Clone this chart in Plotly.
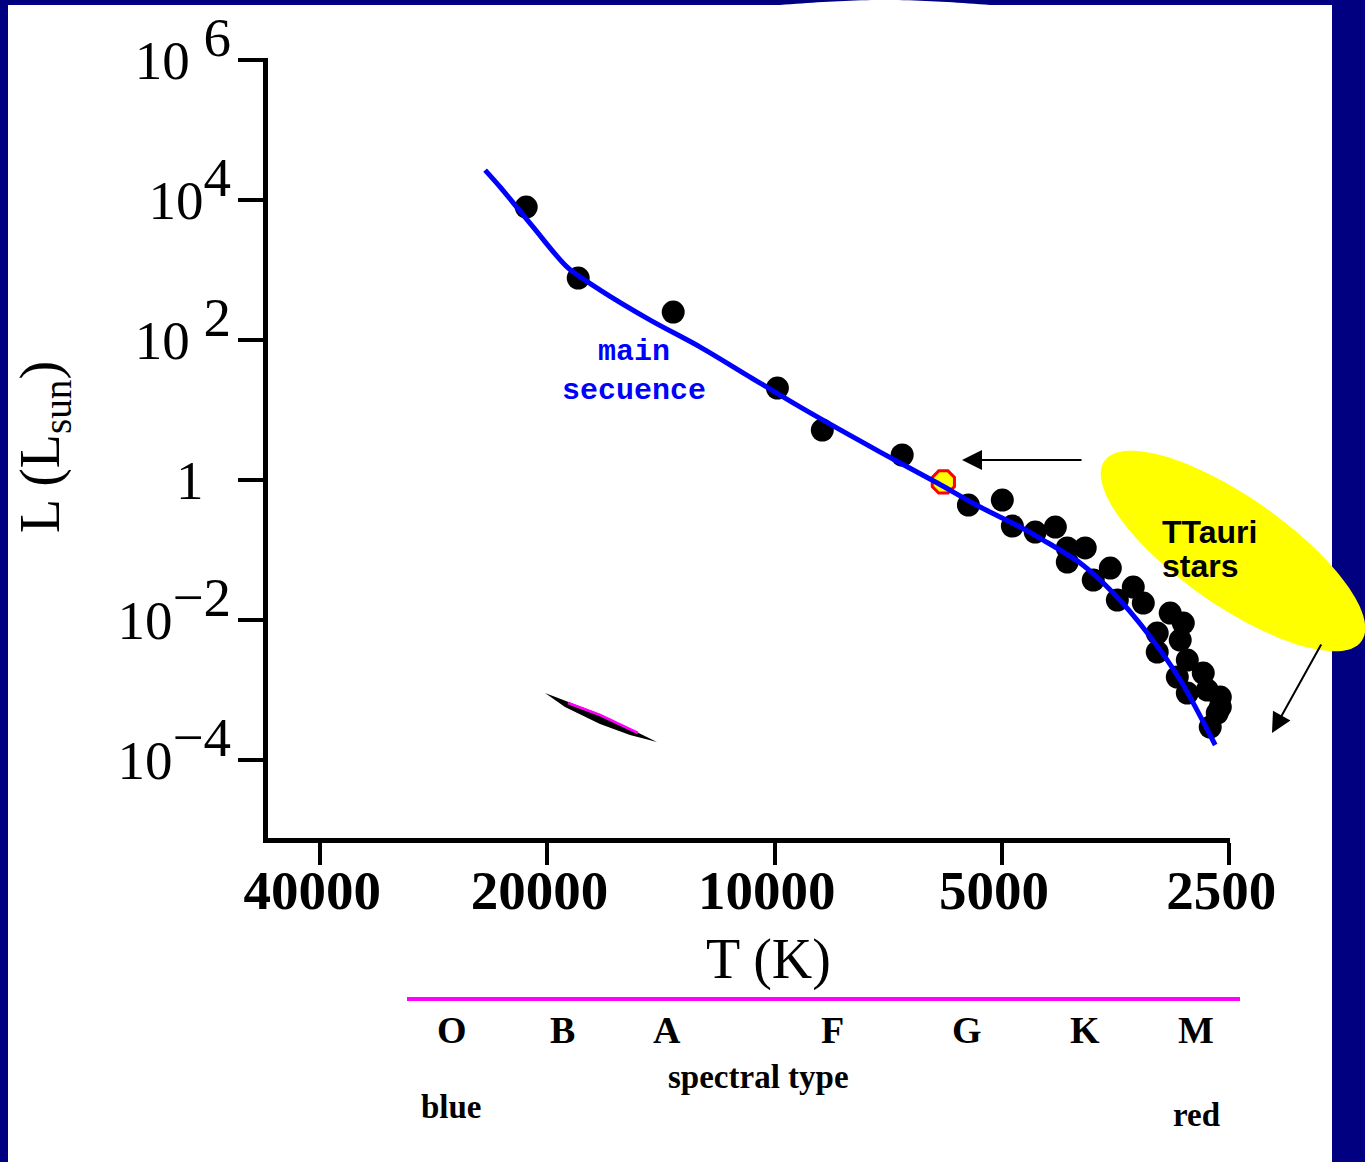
import numpy as np
import plotly.graph_objects as go

# ---------------- data ----------------
ms_T = [24190, 23100, 20890, 18830, 17030, 14620, 12550, 10780, 9250, 7250,
        6090, 5345, 4730, 4410, 3940, 3562, 3210, 2904, 2610]
ms_L = [26800, 15300, 4110, 1100, 518, 193, 79.4, 29.6, 11.0, 2.51,
        0.906, 0.411, 0.213, 0.139, 0.0652, 0.0243, 0.00652, 0.00139, 0.000164]

star_T = [21340, 18210, 13630, 9920, 8650, 6780, 5540, 4996, 4845, 4519,
          4250, 4098, 3880, 4098, 3594, 3786, 3351, 3518, 3250, 2994,
          2877, 3115, 2904, 3115, 2842, 2930, 2707, 2674, 2570, 2842,
          2594, 2650, 2570]
star_L = [7940, 769, 251, 20.6, 5.18, 2.28, 0.439, 0.518, 0.220, 0.181,
          0.213, 0.107, 0.107, 0.0674, 0.0553, 0.0373, 0.0296, 0.0193, 0.0175, 0.0126,
          0.00906, 0.00652, 0.00518, 0.00349, 0.00268, 0.00153, 0.00175, 0.00100, 0.000794, 0.000906,
          0.000469, 0.000296, 0.000571]

sun_T = [5980]
sun_L = [0.94]

x_tickvals = [40000, 20000, 10000, 5000, 2500]
x_ticktext = ["40000", "20000", "10000", "5000", "2500"]
y_tickvals = [1e-4, 1e-2, 1, 1e2, 1e4, 1e6]
y_exponents = ["\u22124", "\u22122", "", "2", "4", "6"]

spectral_types = ["O", "B", "A", "F", "G", "K", "M"]

# ---------------- layout geometry ----------------
W, H = 1365, 1162
L_M, R_M, T_M, B_M = 268, 135, 58, 324
PW = W - L_M - R_M
PH = H - T_M - B_M

def px(x):
    return (x - L_M) / PW

def py(y):
    return (H - B_M - y) / PH

def path_from(points, close=True):
    s = "M " + " L ".join(f"{px(a):.5f},{py(b):.5f}" for a, b in points)
    return s + (" Z" if close else "")

SERIF = "Liberation Serif"
TICK_SIZE = 55

y_ticktext = []
for e in y_exponents:
    if e == "":
        y_ticktext.append("1  ")
    else:
        sp = " " if e in ("6", "2") else ""
        y_ticktext.append(f"10{sp}<sup><span style='font-size:{TICK_SIZE}px'>{e}</span></sup>")

fig = go.Figure()
fig.add_trace(go.Scatter(
    x=star_T, y=star_L, mode="markers", cliponaxis=False,
    marker=dict(color="black", size=23, line=dict(width=0)),
    hoverinfo="skip", showlegend=False))
fig.add_trace(go.Scatter(
    x=sun_T, y=sun_L, mode="markers", cliponaxis=False,
    marker=dict(symbol="octagon", color="#FFFF00", size=24,
                line=dict(color="#FF0000", width=3)),
    hoverinfo="skip", showlegend=False))
fig.add_trace(go.Scatter(
    x=ms_T, y=ms_L, mode="lines", cliponaxis=False,
    line=dict(color="#0000FF", width=5, shape="spline", smoothing=0.8),
    hoverinfo="skip", showlegend=False))

shapes = []
# white slide panel on navy background
shapes.append(dict(type="rect", xref="paper", yref="paper", layer="below",
                   x0=px(8), x1=px(1332), y0=py(H + 10), y1=py(5),
                   fillcolor="white", line=dict(width=0)))
# small white bulge at the top border
bulge = [(780 + t, 5 - 5 * np.sin(np.pi * t / 210)) for t in np.linspace(0, 210, 40)]
shapes.append(dict(type="path", xref="paper", yref="paper", layer="below",
                   path=path_from(bulge), fillcolor="white", line=dict(width=0)))
# yellow TTauri ellipse
cx, cy, a, b, ang = 1233, 551, 157, 54, np.deg2rad(35)
tt = np.linspace(0, 2 * np.pi, 120, endpoint=False)
ell = [(cx + a * np.cos(t) * np.cos(ang) - b * np.sin(t) * np.sin(ang),
        cy + a * np.cos(t) * np.sin(ang) + b * np.sin(t) * np.cos(ang)) for t in tt]
shapes.append(dict(type="path", xref="paper", yref="paper", layer="below",
                   path=path_from(ell), fillcolor="#FFFF00", line=dict(width=0)))
# magenta rule above spectral types
shapes.append(dict(type="line", xref="paper", yref="paper", layer="above",
                   x0=px(407), x1=px(1240), y0=py(999), y1=py(999),
                   line=dict(color="#FF00FF", width=4)))
# small black/magenta sliver artifact
sliver = [(545, 693), (600, 714), (657, 742), (630, 735), (600, 724), (565, 707)]
shapes.append(dict(type="path", xref="paper", yref="paper", layer="above",
                   path=path_from(sliver), fillcolor="black", line=dict(width=0)))
shapes.append(dict(type="path", xref="paper", yref="paper", layer="above",
                   path=path_from([(568, 703), (600, 715), (638, 733)], close=False),
                   line=dict(color="#FF00FF", width=2.5)))

ann = []
def text(x, y, s, size, family=SERIF, color="black", xanchor="center", **kw):
    ann.append(dict(x=px(x), y=py(y), xref="paper", yref="paper", text=s,
                    showarrow=False, xanchor=xanchor, yanchor="middle",
                    font=dict(family=family, size=size, color=color), **kw))

# axis titles
text(44, 447, "L (L<sub>sun</sub>)", 56, textangle=-90)
text(768, 960, "T (K)", 56)
# spectral types
spec_x = [452, 562, 667, 832, 967, 1085, 1196]
for lab, xx in zip(spectral_types, spec_x):
    text(xx, 1030, f"<b>{lab}</b>", 38)
text(758, 1077, "<b>spectral type</b>", 33)
text(451, 1107, "<b>blue</b>", 33)
text(1196, 1115, "<b>red</b>", 33)
# main sequence label
text(634, 371, "<b>main<br>secuence</b>", 30, family="Liberation Mono", color="#0000FF")
# TTauri label
text(1160, 532, "<b>TTauri</b>", 32, family="Liberation Sans", xanchor="left")
text(1160, 566, "<b>stars</b>", 32, family="Liberation Sans", xanchor="left")
# arrows
ann.append(dict(x=px(962), y=py(460), xref="paper", yref="paper", text="",
                showarrow=True, ax=121, ay=0, axref="pixel", ayref="pixel",
                arrowhead=2, arrowsize=2, arrowwidth=2, arrowcolor="black"))
ann.append(dict(x=px(1272), y=py(733), xref="paper", yref="paper", text="",
                showarrow=True, ax=50, ay=-90, axref="pixel", ayref="pixel",
                arrowhead=2, arrowsize=2, arrowwidth=2, arrowcolor="black"))

fig.update_layout(
    width=W, height=H,
    margin=dict(l=L_M, r=R_M, t=T_M, b=B_M, pad=0, autoexpand=False),
    paper_bgcolor="#000080", plot_bgcolor="rgba(0,0,0,0)",
    showlegend=False,
    shapes=shapes, annotations=ann,
    xaxis=dict(type="log", range=[np.log10(46900), np.log10(2495)],
               tickvals=x_tickvals, ticktext=x_ticktext,
               ticks="outside", ticklen=22, tickwidth=4, tickcolor="black",
               ticklabelstandoff=-22, ticklabelshift=8,
               showline=True, linewidth=5, linecolor="black",
               showgrid=False, zeroline=False, automargin=False,
               tickfont=dict(family=SERIF, size=TICK_SIZE, color="black", weight="bold")),
    yaxis=dict(type="log", range=[np.log10(7.69e-6), np.log10(1.0715e6)],
               tickvals=y_tickvals, ticktext=y_ticktext,
               ticks="outside", ticklen=25, tickwidth=4, tickcolor="black",
               ticklabelstandoff=-4,
               showline=True, linewidth=5, linecolor="black",
               showgrid=False, zeroline=False, automargin=False,
               tickfont=dict(family=SERIF, size=TICK_SIZE, color="black")),
)

fig.write_html("out.html")
